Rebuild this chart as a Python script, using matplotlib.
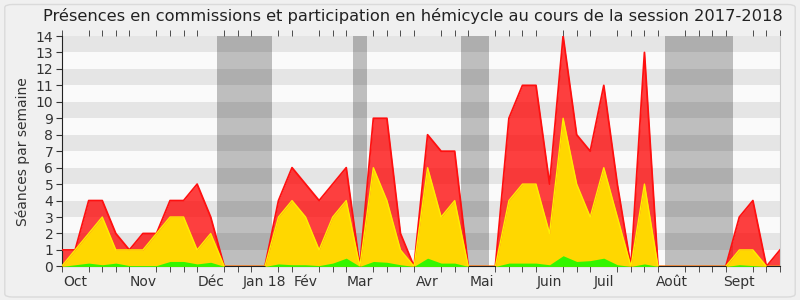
import numpy as np
import matplotlib
matplotlib.use('Agg')
import matplotlib.pyplot as plt
from matplotlib.patches import FancyBboxPatch

# ── Data (one point per week of the 2017-2018 session) ──────────
weeks = list(range(54))
total = [1, 1, 4, 4, 2, 1, 2, 2, 4, 4, 5, 3, 0, 0, 0, 0, 4, 6, 5, 4,
         5, 6, 0, 9, 9, 2, 0, 8, 7, 7, 0, 0, 0, 9, 11, 11, 5, 14, 8, 7,
         11, 5, 0, 13, 0, 0, 0, 0, 0, 0, 3, 4, 0, 1]
commissions = [0, 1, 2, 3, 1, 1, 1, 2, 3, 3, 1, 2, 0, 0, 0, 0, 3, 4, 3, 1,
               3, 4, 0, 6, 4, 1, 0, 6, 3, 4, 0, 0, 0, 4, 5, 5, 2, 9, 5, 3,
               6, 3, 0, 5, 0, 0, 0, 0, 0, 0, 1, 1, 0, 0]
hemicycle = [0, 0.1, 0.2, 0.1, 0.2, 0.05, 0.05, 0.05, 0.3, 0.3, 0.15, 0.25, 0, 0, 0, 0,
             0.15, 0.1, 0.1, 0.05, 0.2, 0.5, 0, 0.3, 0.25, 0.1, 0, 0.5, 0.2, 0.2,
             0, 0, 0, 0.2, 0.2, 0.2, 0.1, 0.65, 0.3, 0.35, 0.5, 0.1, 0, 0.15,
             0, 0, 0, 0, 0, 0, 0.1, 0.05, 0, 0]

# holiday periods (in weeks)
breaks = [(11.5, 15.5), (21.5, 22.5), (29.5, 31.5), (44.5, 49.5)]

month_labels = ['Oct', 'Nov', 'Déc', 'Jan 18', 'Fév', 'Mar', 'Avr', 'Mai',
                'Juin', 'Juil', 'Août', 'Sept']
month_weeks = [1, 6, 11, 15, 18, 22, 27, 31, 36, 40, 45, 50]

# ── Figure ───────────────────────────────────────────────────────
fig = plt.figure(figsize=(8, 3), dpi=100, facecolor='#f0f0f0')
fig.patches.append(FancyBboxPatch((0.006, 0.01), 0.988, 0.975,
                                  boxstyle='round,pad=0,rounding_size=0.01',
                                  transform=fig.transFigure, facecolor='#f0f0f0',
                                  edgecolor='#dadada', linewidth=1, zorder=-10))
ax = fig.add_axes([0.077, 0.112, 0.898, 0.768])
ax.set_facecolor('#fafafa')

# alternating stripes
for k in range(1, 14, 2):
    ax.axhspan(k, k + 1, color='#e5e5e5', lw=0, zorder=0)

for a, b in breaks:
    ax.axvspan(a, b, color='black', alpha=0.24, lw=0, zorder=1)

ax.fill_between(weeks, 0, total, color='#ff0000', alpha=0.75, lw=0, zorder=2)
ax.plot(weeks, total, color='#ff1010', lw=1.3, zorder=3)
ax.fill_between(weeks, 0, commissions, color='#ffd700', lw=0, zorder=4)
ax.plot(weeks, commissions, color='#ffee00', lw=1.0, zorder=5)
ax.fill_between(weeks, 0, hemicycle, color='#00ff00', alpha=0.8, lw=0, zorder=6)

ax.set_xlim(0, 53)
ax.set_ylim(0, 14)
ax.set_yticks(range(15))
ax.set_xticks(month_weeks)
ax.set_xticklabels(month_labels)
ax.set_xticks(weeks, minor=True)
ax.tick_params(axis='x', which='major', length=0, labelsize=10, colors='#333333', pad=6)
ax.tick_params(axis='x', which='minor', length=4, color='#333333', top=True)
ax.tick_params(axis='y', length=4, labelsize=10, colors='#333333', pad=2)
ax.set_ylabel('Séances par semaine', fontsize=10, color='#333333')

ax.spines['top'].set_visible(False)
ax.spines['right'].set_color('#cccccc')
ax.spines['left'].set_color('#222222')
ax.spines['bottom'].set_color('#222222')

fig.suptitle('Présences en commissions et participation en hémicycle au cours de la session 2017-2018',
             fontsize=11.7, color='#222222', x=0.516, y=0.975)

fig.savefig('out.png', dpi=100, facecolor=fig.get_facecolor())
